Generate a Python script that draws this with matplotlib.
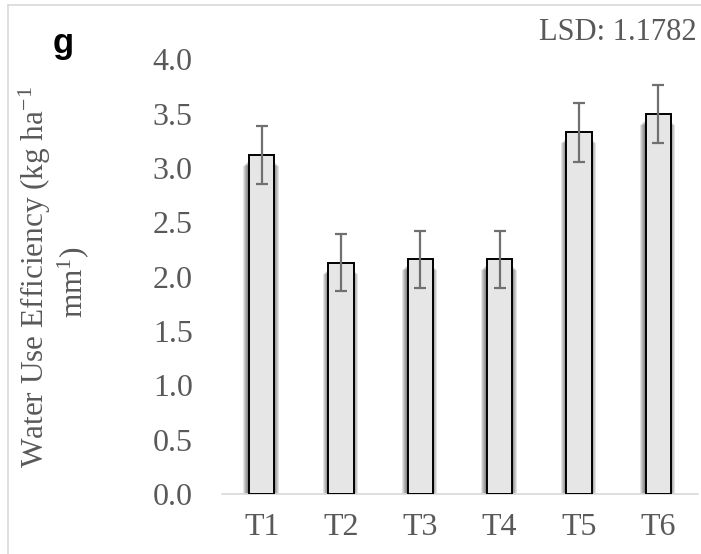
import matplotlib
matplotlib.use("Agg")
import matplotlib.pyplot as plt
import numpy as np

plt.rcParams["mathtext.fontset"] = "custom"
plt.rcParams["mathtext.rm"] = "Liberation Serif"
plt.rcParams["mathtext.it"] = "Liberation Serif:italic"
plt.rcParams["mathtext.bf"] = "Liberation Serif:bold"

categories = ["T1", "T2", "T3", "T4", "T5", "T6"]
values = [3.12, 2.13, 2.16, 2.16, 3.33, 3.50]
errors = [0.265, 0.265, 0.265, 0.265, 0.27, 0.265]
yticks = [0.0, 0.5, 1.0, 1.5, 2.0, 2.5, 3.0, 3.5, 4.0]
ylabel_line1 = r"Water Use Efficiency (kg ha$^{\mathrm{-1}}$"
ylabel_line2 = r"mm$^{\mathrm{1}}$)"
panel_label = "g"
lsd_text = "LSD: 1.1782"

W, H = 701, 554
fig = plt.figure(figsize=(W / 100, H / 100), dpi=100)
fig.patch.set_facecolor("white")

# outer light frame
fig.add_artist(plt.Line2D([8 / W, 8 / W], [0, 1 - 5 / H], color="#d9d9d9", lw=1.2))
fig.add_artist(plt.Line2D([8 / W, 1], [1 - 5 / H, 1 - 5 / H], color="#d9d9d9", lw=1.2))

left, right, top, bottom = 222, 698, 59.5, 494
ax = fig.add_axes([left / W, 1 - bottom / H, (right - left) / W, (bottom - top) / H])
ax.set_xlim(-0.5, 5.5)
ax.set_ylim(0, 4.0)

x = np.arange(len(categories))
bw = 0.32
px = 1.0 / 79.3  # one pixel in x data units
py = 4.0 / (bottom - top)

# soft shadow around bars
for k in range(1, 6):
    ax.bar(x - 0.8 * px, [v - (6 + k) * py for v in values], width=bw + 2 * k * px,
           color="black", alpha=0.11, linewidth=0, zorder=1)

ax.bar(x, values, width=bw, color="#e6e6e6", edgecolor="black", linewidth=1.4, zorder=3)
ax.errorbar(x, values, yerr=errors, fmt="none", ecolor="#707070", elinewidth=1.6,
            capsize=4.6, capthick=1.6, zorder=4)

for s in ["left", "right", "top"]:
    ax.spines[s].set_visible(False)
ax.spines["bottom"].set_color("#d9d9d9")
ax.spines["bottom"].set_linewidth(1.2)
ax.spines["bottom"].set_zorder(2)

ax.set_yticks(yticks)
ax.set_yticklabels([f"{t:.1f}" for t in yticks])
ax.set_xticks(x)
ax.set_xticklabels(categories)
ax.tick_params(axis="both", length=0, labelsize=23, labelcolor="#595959")
ax.tick_params(axis="y", pad=21)
ax.tick_params(axis="x", pad=14)
for lab in ax.get_xticklabels() + ax.get_yticklabels():
    lab.set_fontfamily("Liberation Serif")

fig.text(35 / W, 1 - 277 / H, ylabel_line1, rotation=90, ha="center", va="center",
         fontsize=22.5, color="#595959", family="Liberation Serif")
fig.text(73 / W, 1 - 282 / H, ylabel_line2, rotation=90, ha="center", va="center",
         fontsize=22.5, color="#595959", family="Liberation Serif")

fig.text(63 / W, 1 - 44 / H, panel_label, ha="center", va="center", fontsize=25,
         fontweight="bold", color="black", family="Liberation Sans")
fig.text(697 / W, 1 - 32 / H, lsd_text, ha="right", va="center", fontsize=22,
         color="#595959", family="Liberation Serif")

fig.savefig("out.png", dpi=100)
